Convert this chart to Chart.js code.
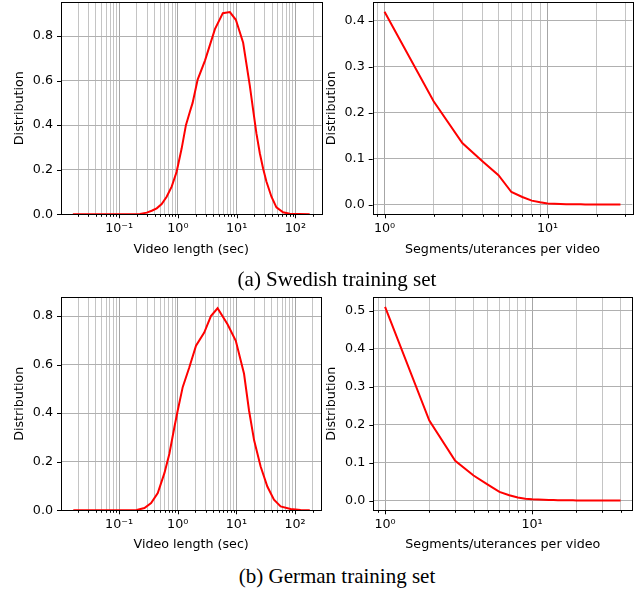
<!DOCTYPE html>
<html><head><meta charset="utf-8">
<script src="https://cdn.jsdelivr.net/npm/chart.js@4"></script>
<style>
body{margin:0;background:#fff;width:641px;height:592px;position:relative;overflow:hidden}
canvas{position:absolute}
.cap{position:absolute;left:137px;width:400px;text-align:center;font-family:"Liberation Serif","Times New Roman",serif;font-size:21px;line-height:21px;color:#000;white-space:nowrap}
</style></head><body>
<canvas id="c1" width="330" height="257" style="left:0;top:0"></canvas>
<canvas id="c2" width="319" height="257" style="left:322px;top:0"></canvas>
<canvas id="c3" width="330" height="262" style="left:0;top:290px"></canvas>
<canvas id="c4" width="319" height="262" style="left:322px;top:290px"></canvas>
<div class="cap" style="top:269px">(a) Swedish training set</div>
<div class="cap" style="top:566px">(b) German training set</div>
<script>
// ---- data ----
const swLenX = [0.0163, 0.1, 0.227, 0.295, 0.359, 0.436, 0.530, 0.644, 0.784, 0.953, 1.158, 1.37, 1.60, 1.78, 2.17, 2.89, 4.27, 5.82, 7.67, 9.69, 12.9, 16.7, 19.1, 21.7, 24.8, 28.2, 32.1, 39.1, 47.5, 61.7, 80, 175];
const swLenY = [0, 0, 0.0015, 0.0075, 0.016, 0.027, 0.046, 0.079, 0.124, 0.191, 0.295, 0.40, 0.46, 0.50, 0.605, 0.69, 0.831, 0.903, 0.908, 0.873, 0.77, 0.58, 0.468, 0.363, 0.274, 0.206, 0.147, 0.079, 0.031, 0.009, 0.003, 0];
const swSegX = [1,2,3,4,5,6,7,8,9,10,11,12,13,14,15,16,17,18,19,20,21,22,23,24,25,26,27,28];
const swSegY = [0.420,0.225,0.134,0.094,0.064,0.0275,0.0167,0.0087,0.005,0.0025,0.0018,0.0014,0.0011,0.0009,0.0007,0.0006,0.0005,0.0004,0.0003,0.0003,0.0002,0.0002,0.0002,0.0001,0.0001,0.0001,0.0001,0.0001];
const deLenX = [0.0166, 0.15, 0.2, 0.271, 0.352, 0.457, 0.593, 0.721, 0.877, 1.0, 1.216, 1.578, 2.05, 2.83, 3.68, 4.78, 7.06, 9.77, 13.5, 16.4, 20, 25.9, 33.7, 43.7, 56.7, 84, 124, 178];
const deLenY = [0, 0, 0.0015, 0.0095, 0.030, 0.071, 0.153, 0.233, 0.342, 0.411, 0.507, 0.589, 0.678, 0.732, 0.80, 0.832, 0.766, 0.698, 0.562, 0.412, 0.289, 0.18, 0.098, 0.0436, 0.016, 0.0055, 0.0014, 0];
const deSegX = [1,2,3,4,5,6,7,8,9,10,11,12,13,14,15,16,17,18,19,20,21,22,23,24,25,26,27,28,29,30,31,32,33,34,35,36,37,38,39,40];
const deSegY = [0.5105,0.211,0.105,0.066,0.042,0.023,0.014,0.008,0.005,0.0035,0.0027,0.0021,0.0017,0.0014,0.0012,0.001,0.0009,0.0008,0.0007,0.0006,0.0005,0.0005,0.0004,0.0004,0.0003,0.0003,0.0003,0.0002,0.0002,0.0002,0.0002,0.0001,0.0001,0.0001,0.0001,0.0001,0.0001,0.0001,0.0001,0.0001];

const lenMajorTicks = [0.1, 1, 10, 100];
const lenMajorLabels = ['10\u207B\u00B9', '10\u2070', '10\u00B9', '10\u00B2'];
const segMajorTicks = [1, 10];
const segMajorLabels = ['10\u2070', '10\u00B9'];
const lenYTicks = [0, 0.2, 0.4, 0.6, 0.8];
const swSegYTicks = [0, 0.1, 0.2, 0.3, 0.4];
const deSegYTicks = [0, 0.1, 0.2, 0.3, 0.4, 0.5];

const FONT = {family: '"DejaVu Sans", sans-serif', size: 12.7};

function logTicks(min, max, majors) {
  const out = [];
  const e0 = Math.floor(Math.log10(min)), e1 = Math.ceil(Math.log10(max));
  for (let e = e0; e <= e1; e++) {
    for (let k = 1; k <= 9; k++) {
      const v = parseFloat((k * Math.pow(10, e)).toPrecision(6));
      if (v >= min && v <= max) out.push({value: v, major: k === 1});
    }
  }
  return out;
}

const framePlugin = {
  id: 'frame',
  afterDraw(chart) {
    const {ctx, chartArea: a, scales} = chart;
    ctx.save();
    ctx.strokeStyle = '#000';
    ctx.lineWidth = 1;
    ctx.beginPath();
    const xs = scales.x, ys = scales.y;
    xs.ticks.forEach(t => {
      const p = Math.round(xs.getPixelForValue(t.value)) + 0.5;
      const len = t.major ? 4 : 2.5;
      ctx.moveTo(p, a.bottom); ctx.lineTo(p, a.bottom + len);
    });
    ys.ticks.forEach(t => {
      const p = Math.round(ys.getPixelForValue(t.value)) + 0.5;
      ctx.moveTo(a.left, p); ctx.lineTo(a.left - 4, p);
    });
    ctx.stroke();
    ctx.strokeRect(Math.round(a.left) + 0.5, Math.round(a.top) + 0.5, Math.round(a.right - a.left), Math.round(a.bottom - a.top));
    ctx.restore();
  }
};

function makeChart(id, xs, ys, o) {
  const pts = xs.map((x, i) => ({x: x, y: ys[i]}));
  return new Chart(document.getElementById(id), {
    type: 'line',
    data: {datasets: [{data: pts, borderColor: '#ff0000', borderWidth: 2, pointRadius: 0, tension: 0, fill: false}]},
    plugins: [framePlugin],
    options: {
      responsive: false, animation: false, devicePixelRatio: 1,
      layout: {padding: {left: 0, top: o.pt, right: o.pr, bottom: 0}},
      plugins: {legend: {display: false}, tooltip: {enabled: false}},
      scales: {
        x: {
          type: 'logarithmic', min: o.xmin, max: o.xmax,
          afterBuildTicks: s => { s.ticks = logTicks(o.xmin, o.xmax, o.majors); },
          afterFit: s => { s.height = o.xH; s.paddingLeft = 0; s.paddingRight = 0; s.paddingTop = 0; s.paddingBottom = 0; },
          grid: {color: c => (c.tick && c.tick.major) ? '#a6a6a6' : '#c4c4c4', lineWidth: 1, drawTicks: false},
          border: {display: false},
          ticks: {autoSkip: false, maxRotation: 0, minRotation: 0, padding: 7, color: '#000', font: FONT,
            callback: (v) => { const i = o.majors.indexOf(v); return i >= 0 ? o.majorLabels[i] : ''; }},
          title: {display: true, text: o.xTitle, color: '#000', font: FONT, padding: {top: 0, bottom: 0}}
        },
        y: {
          type: 'linear', min: o.ymin, max: o.ymax,
          afterBuildTicks: s => { s.ticks = o.yTicks.map(v => ({value: v})); },
          afterFit: s => { s.width = o.yW; s.paddingLeft = 0; s.paddingRight = 0; s.paddingTop = 0; s.paddingBottom = 0; },
          grid: {color: '#b0b0b0', lineWidth: 1, drawTicks: false},
          border: {display: false},
          ticks: {padding: 8, color: '#000', font: FONT, callback: v => Number(v).toFixed(1)},
          title: {display: true, text: 'Distribution', color: '#000', font: FONT, padding: {top: o.ytp, bottom: 0}}
        }
      }
    }
  });
}

makeChart('c1', swLenX, swLenY, {pt: 2, pr: 8.5, xH: 42.7, yW: 61, ytp: 12.4,
  xmin: 0.01025, xmax: 278, majors: lenMajorTicks, majorLabels: lenMajorLabels, xTitle: 'Video length (sec)',
  ymin: 0, ymax: 0.953, yTicks: lenYTicks});
makeChart('c2', swSegX, swSegY, {pt: 2, pr: 8.7, xH: 42.7, yW: 50.7, ytp: 2.1,
  xmin: 0.846, xmax: 33.1, majors: segMajorTicks, majorLabels: segMajorLabels, xTitle: 'Segments/uterances per video',
  ymin: -0.021, ymax: 0.441, yTicks: swSegYTicks});
makeChart('c3', deLenX, deLenY, {pt: 7.3, pr: 8.7, xH: 41.7, yW: 61, ytp: 12.4,
  xmin: 0.01025, xmax: 280, majors: lenMajorTicks, majorLabels: lenMajorLabels, xTitle: 'Video length (sec)',
  ymin: 0, ymax: 0.877, yTicks: lenYTicks});
makeChart('c4', deSegX, deSegY, {pt: 7.3, pr: 8.7, xH: 41.7, yW: 51.3, ytp: 2.1,
  xmin: 0.8315, xmax: 48.1, majors: segMajorTicks, majorLabels: segMajorLabels, xTitle: 'Segments/uterances per video',
  ymin: -0.0255, ymax: 0.5355, yTicks: deSegYTicks});
</script>
</body></html>
